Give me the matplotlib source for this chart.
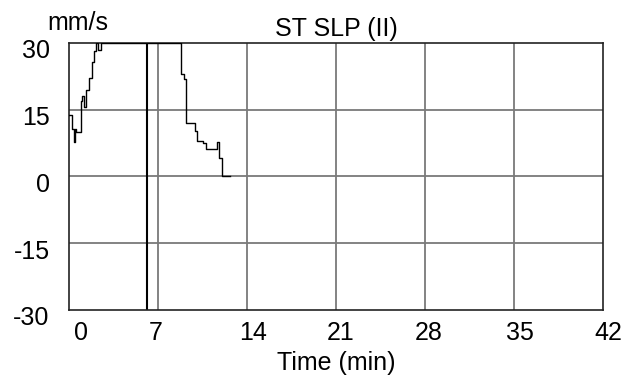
import matplotlib.pyplot as plt
import matplotlib.transforms as mtransforms

plt.rcParams['font.family'] = ['Liberation Sans', 'DejaVu Sans']

# ST slope trace, lead II (time in minutes, slope in mm/s)
time_min = [0.0, 0.26, 0.36, 0.44, 0.52, 0.92, 1.05, 1.22, 1.30, 1.34,
            1.57, 1.78, 1.97, 2.12, 2.30, 2.55, 2.65, 8.81, 9.05, 9.20,
            9.91, 10.10, 10.57, 10.75, 11.61, 11.82, 12.00, 12.66]
st_slope = [13.9, 10.6, 7.7, 10.6, 10.0, 16.9, 18.0, 15.5, 18.5, 19.5,
            22.2, 25.7, 28.2, 30.0, 28.5, 30.0, 30.0, 22.9, 21.9, 12.1,
            10.2, 7.9, 7.4, 6.1, 7.7, 4.2, 0.0, 0.0]
event_time = 6.13

x_ticks = [0, 7, 14, 21, 28, 35, 42]
y_ticks = [-30, -15, 0, 15, 30]

FS = 18

fig = plt.figure(figsize=(6.27, 3.86), dpi=100)
ax = fig.add_axes([0.110, 0.197, 0.852, 0.692])

ax.set_xlim(0, 42)
ax.set_ylim(-30, 30)

for xt in x_ticks[1:-1]:
    ax.axvline(xt, color='#7a7a7a', lw=1.3, zorder=1)
for yt in y_ticks[1:-1]:
    ax.axhline(yt, color='#7a7a7a', lw=1.3, zorder=1)

ax.axvline(event_time, color='black', lw=1.5, zorder=2)
ax.plot(time_min, st_slope, color='black', lw=1.0, drawstyle='steps-post',
        zorder=3, clip_on=True)

for sp in ax.spines.values():
    sp.set_linewidth(1.2)
    sp.set_color('#222222')

ax.set_xticks(x_ticks)
ax.set_xticklabels([str(v) for v in x_ticks], fontsize=FS)
ax.set_yticks(y_ticks)
ax.set_yticklabels([str(v) for v in y_ticks], fontsize=FS)
ax.tick_params(axis='both', length=0)
ax.tick_params(axis='x', pad=8)
ax.tick_params(axis='y', pad=14)

# nudge tick labels to sit the way the monitor printout places them
x_shift = [12, -2, 6, 5, 4, 6, 5]
for lab, dx in zip(ax.get_xticklabels(), x_shift):
    lab.set_transform(lab.get_transform() +
                      mtransforms.ScaledTranslation(dx / 100, 0, fig.dpi_scale_trans))
for lab in ax.get_yticklabels():
    lab.set_transform(lab.get_transform() +
                      mtransforms.ScaledTranslation(0, -6 / 100, fig.dpi_scale_trans))

ax.set_xlabel('Time (min)', fontsize=FS, labelpad=4)
ax.set_title('ST SLP (II)', fontsize=FS, pad=5)
fig.text(78 / 627, 1 - 23 / 386, 'mm/s', fontsize=FS, ha='center', va='center')

fig.savefig('out.png', dpi=100)
